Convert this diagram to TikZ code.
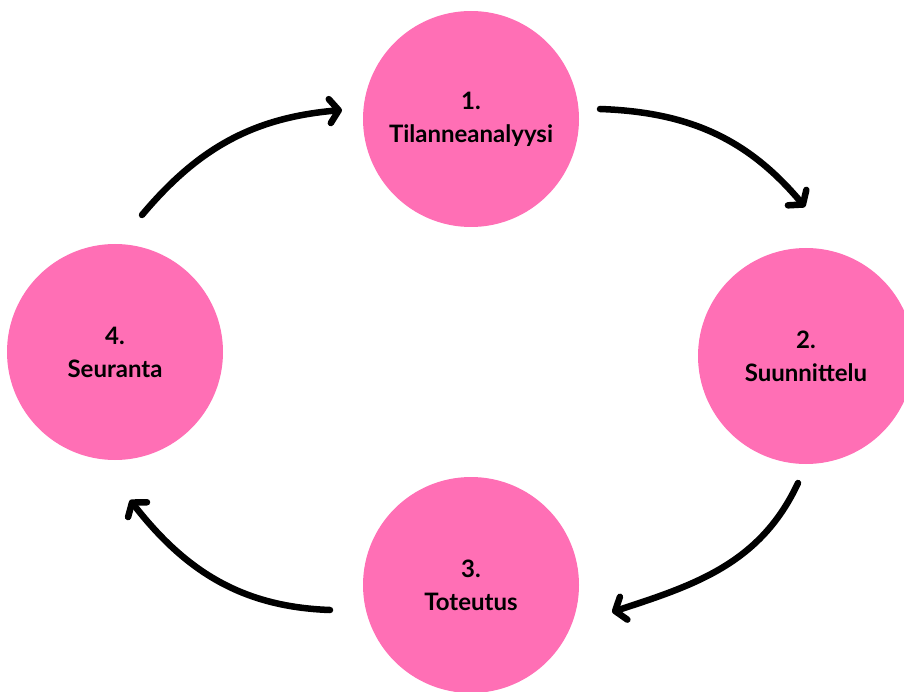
\documentclass[tikz,border=0pt]{standalone}
\usepackage{fontspec}
\setmainfont{Lato}
\usetikzlibrary{
	arrows.meta,
	calc
}
\definecolor{phasepink}{HTML}{FF6FB5}
\tikzset{
	phase/.style={
		circle,
		fill=phasepink,
		minimum size=216pt,
		inner sep=0pt,
		align=center,
		font=\fontsize{24}{33}\selectfont\bfseries
	},
	cycle arrow/.style={
		line width=6.5pt,
		line cap=round,
		-{Straight Barb[length=9pt,width=24pt,round]}
	}
}

\begin{document}
\begin{tikzpicture}[x=1pt,y=1pt]
		\useasboundingbox (0,0) rectangle (904,-692);
		\node[phase] (c1) at (471,-119) {1.\\Tilanneanalyysi};
		\node[phase] (c2) at (806,-356) {2.\\Suunnittelu};
		\node[phase] (c3) at (471,-585) {3.\\Toteutus};
		\node[phase] (c4) at (115,-352) {4.\\Seuranta};
		%arrows between the phases
		\draw[cycle arrow] ([shift={(27,137)}]c4.center) to[out=50,in=185] ([shift={(-129,9)}]c1.center);
		\draw[cycle arrow] ([shift={(129,10)}]c1.center) to[out=-2,in=130] ([shift={(-1,149)}]c2.center);
		\draw[cycle arrow] ([shift={(-8,-127)}]c2.center) to[out=-115,in=18] ([shift={(141,-27)}]c3.center);
		\draw[cycle arrow] ([shift={(-141,-25)}]c3.center) to[out=178,in=-52] ([shift={(15,-148)}]c4.center);
	\end{tikzpicture}
\end{document}
